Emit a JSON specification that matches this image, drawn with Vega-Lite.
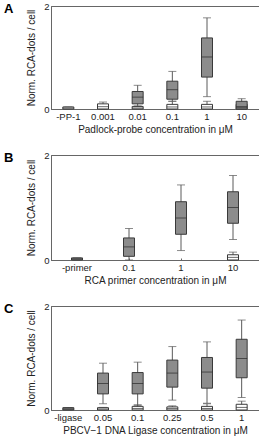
{
  "$schema": "https://vega.github.io/schema/vega-lite/v6.json",
  "padding": {"left": 3, "top": 0, "right": 0, "bottom": 0},
  "spacing": 46,
  "bounds": "flush",
  "datasets": {
    "probe": [
      {"conc": "-PP-1", "group": "control", "min": 0, "q1": 0, "median": 0.02, "q3": 0.04, "max": 0.04},
      {"conc": "0.001", "group": "control", "min": 0, "q1": 0, "median": 0.045, "q3": 0.1, "max": 0.135},
      {"conc": "0.01", "group": "control", "min": 0, "q1": 0, "median": 0.02, "q3": 0.05, "max": 0.05},
      {"conc": "0.1", "group": "control", "min": 0, "q1": 0, "median": 0.04, "q3": 0.09, "max": 0.15},
      {"conc": "1", "group": "control", "min": 0, "q1": 0, "median": 0.04, "q3": 0.09, "max": 0.15},
      {"conc": "10", "group": "control", "min": 0, "q1": 0, "median": 0.04, "q3": 0.09, "max": 0.12},
      {"conc": "0.01", "group": "sample", "min": 0.06, "q1": 0.1, "median": 0.23, "q3": 0.34, "max": 0.46},
      {"conc": "0.1", "group": "sample", "min": 0.15, "q1": 0.19, "median": 0.375, "q3": 0.54, "max": 0.73},
      {"conc": "1", "group": "sample", "min": 0.24, "q1": 0.62, "median": 1.01, "q3": 1.38, "max": 1.77},
      {"conc": "10", "group": "sample", "min": 0, "q1": 0, "median": 0.04, "q3": 0.15, "max": 0.2}
    ],
    "primer": [
      {"conc": "10", "group": "control", "min": 0, "q1": 0, "median": 0.05, "q3": 0.1, "max": 0.15},
      {"conc": "-primer", "group": "sample", "min": 0, "q1": 0, "median": 0.02, "q3": 0.04, "max": 0.04},
      {"conc": "0.1", "group": "sample", "min": 0, "q1": 0.07, "median": 0.25, "q3": 0.42, "max": 0.6},
      {"conc": "1", "group": "sample", "min": 0.18, "q1": 0.49, "median": 0.8, "q3": 1.11, "max": 1.43},
      {"conc": "10", "group": "sample", "min": 0.39, "q1": 0.7, "median": 1.0, "q3": 1.3, "max": 1.61}
    ],
    "ligase": [
      {"conc": "0.05", "group": "control", "min": 0, "q1": 0, "median": 0.02, "q3": 0.045, "max": 0.05},
      {"conc": "0.1", "group": "control", "min": 0, "q1": 0, "median": 0.03, "q3": 0.07, "max": 0.1},
      {"conc": "0.25", "group": "control", "min": 0, "q1": 0, "median": 0.03, "q3": 0.06, "max": 0.08},
      {"conc": "0.5", "group": "control", "min": 0, "q1": 0, "median": 0.03, "q3": 0.07, "max": 0.12},
      {"conc": "1", "group": "control", "min": 0, "q1": 0, "median": 0.05, "q3": 0.11, "max": 0.17},
      {"conc": "-ligase", "group": "sample", "min": 0, "q1": 0, "median": 0.02, "q3": 0.045, "max": 0.045},
      {"conc": "0.05", "group": "sample", "min": 0.12, "q1": 0.31, "median": 0.51, "q3": 0.71, "max": 0.9},
      {"conc": "0.1", "group": "sample", "min": 0.09, "q1": 0.31, "median": 0.51, "q3": 0.72, "max": 0.92},
      {"conc": "0.25", "group": "sample", "min": 0.19, "q1": 0.44, "median": 0.71, "q3": 0.96, "max": 1.22},
      {"conc": "0.5", "group": "sample", "min": 0.13, "q1": 0.42, "median": 0.73, "q3": 1.01, "max": 1.31},
      {"conc": "1", "group": "sample", "min": 0.24, "q1": 0.62, "median": 0.99, "q3": 1.36, "max": 1.73}
    ]
  },
  "vconcat": [
    {
      "width": 208, "height": 103,
      "title": {"text": "A"},
      "data": {"name": "probe"},
      "encoding": {
        "x": {"field": "conc", "type": "nominal", "sort": ["-PP-1", "0.001", "0.01", "0.1", "1", "10"],
              "scale": {"paddingInner": 0.1, "paddingOuter": 0.05},
              "axis": {"title": "Padlock-probe concentration in μM"}}
      },
      "layer": [
        {"mark": {"type": "rule", "color": "#5a5a5a"},
         "encoding": {"y": {"field": "min", "type": "quantitative", "scale": {"domain": [0, 2]}, "axis": {"values": [0, 1, 2], "format": "d", "title": "Norm. RCA-dots / cell"}}, "y2": {"field": "max"}}},
        {"mark": {"type": "tick", "color": "#5a5a5a", "size": 8, "thickness": 1},
         "encoding": {"y": {"field": "min", "type": "quantitative"}}},
        {"mark": {"type": "tick", "color": "#5a5a5a", "size": 8, "thickness": 1},
         "encoding": {"y": {"field": "max", "type": "quantitative"}}},
        {"mark": {"type": "bar", "size": 11, "stroke": "#3a3a3a", "strokeWidth": 1},
         "encoding": {"y": {"field": "q1", "type": "quantitative"}, "y2": {"field": "q3"},
                      "fill": {"field": "group", "type": "nominal", "scale": {"domain": ["sample", "control"], "range": ["#8c8c8c", "#ffffff"]}, "legend": null}}},
        {"mark": {"type": "tick", "color": "#2a2a2a", "size": 11, "thickness": 1},
         "encoding": {"y": {"field": "median", "type": "quantitative"}}}
      ]
    },
    {
      "width": 208, "height": 105,
      "title": {"text": "B"},
      "data": {"name": "primer"},
      "encoding": {
        "x": {"field": "conc", "type": "nominal", "sort": ["-primer", "0.1", "1", "10"],
              "scale": {"paddingInner": 0.1, "paddingOuter": 0.05},
              "axis": {"title": "RCA primer concentration in μM"}}
      },
      "layer": [
        {"mark": {"type": "rule", "color": "#5a5a5a"},
         "encoding": {"y": {"field": "min", "type": "quantitative", "scale": {"domain": [0, 2]}, "axis": {"values": [0, 1, 2], "format": "d", "title": "Norm. RCA-dots / cell"}}, "y2": {"field": "max"}}},
        {"mark": {"type": "tick", "color": "#5a5a5a", "size": 8, "thickness": 1},
         "encoding": {"y": {"field": "min", "type": "quantitative"}}},
        {"mark": {"type": "tick", "color": "#5a5a5a", "size": 8, "thickness": 1},
         "encoding": {"y": {"field": "max", "type": "quantitative"}}},
        {"mark": {"type": "bar", "size": 11, "stroke": "#3a3a3a", "strokeWidth": 1},
         "encoding": {"y": {"field": "q1", "type": "quantitative"}, "y2": {"field": "q3"},
                      "fill": {"field": "group", "type": "nominal", "scale": {"domain": ["sample", "control"], "range": ["#8c8c8c", "#ffffff"]}, "legend": null}}},
        {"mark": {"type": "tick", "color": "#2a2a2a", "size": 11, "thickness": 1},
         "encoding": {"y": {"field": "median", "type": "quantitative"}}}
      ]
    },
    {
      "width": 208, "height": 104,
      "title": {"text": "C"},
      "data": {"name": "ligase"},
      "encoding": {
        "x": {"field": "conc", "type": "nominal", "sort": ["-ligase", "0.05", "0.1", "0.25", "0.5", "1"],
              "scale": {"paddingInner": 0.1, "paddingOuter": 0.05},
              "axis": {"title": "PBCV−1 DNA Ligase concentration in μM"}}
      },
      "layer": [
        {"mark": {"type": "rule", "color": "#5a5a5a"},
         "encoding": {"y": {"field": "min", "type": "quantitative", "scale": {"domain": [0, 2]}, "axis": {"values": [0, 1, 2], "format": "d", "title": "Norm. RCA-dots / cell"}}, "y2": {"field": "max"}}},
        {"mark": {"type": "tick", "color": "#5a5a5a", "size": 8, "thickness": 1},
         "encoding": {"y": {"field": "min", "type": "quantitative"}}},
        {"mark": {"type": "tick", "color": "#5a5a5a", "size": 8, "thickness": 1},
         "encoding": {"y": {"field": "max", "type": "quantitative"}}},
        {"mark": {"type": "bar", "size": 11, "stroke": "#3a3a3a", "strokeWidth": 1},
         "encoding": {"y": {"field": "q1", "type": "quantitative"}, "y2": {"field": "q3"},
                      "fill": {"field": "group", "type": "nominal", "scale": {"domain": ["sample", "control"], "range": ["#8c8c8c", "#ffffff"]}, "legend": null}}},
        {"mark": {"type": "tick", "color": "#2a2a2a", "size": 11, "thickness": 1},
         "encoding": {"y": {"field": "median", "type": "quantitative"}}}
      ]
    }
  ],
  "config": {
    "font": "Liberation Sans",
    "view": {"stroke": "#666666", "strokeWidth": 1},
    "axis": {"grid": false, "domainColor": "#666666", "tickColor": "#666666", "tickSize": -2,
             "labelFontSize": 9.5, "titleFontSize": 10, "titleFontWeight": "normal",
             "labelColor": "#222222", "titleColor": "#222222", "labelPadding": 4},
    "axisX": {"labelAngle": 0, "titlePadding": 4},
    "axisY": {"titlePadding": 7},
    "title": {"anchor": "start", "frame": "group", "fontSize": 13, "fontWeight": "bold",
              "baseline": "top", "offset": -15, "dx": -47, "color": "#000000"}
  }
}
